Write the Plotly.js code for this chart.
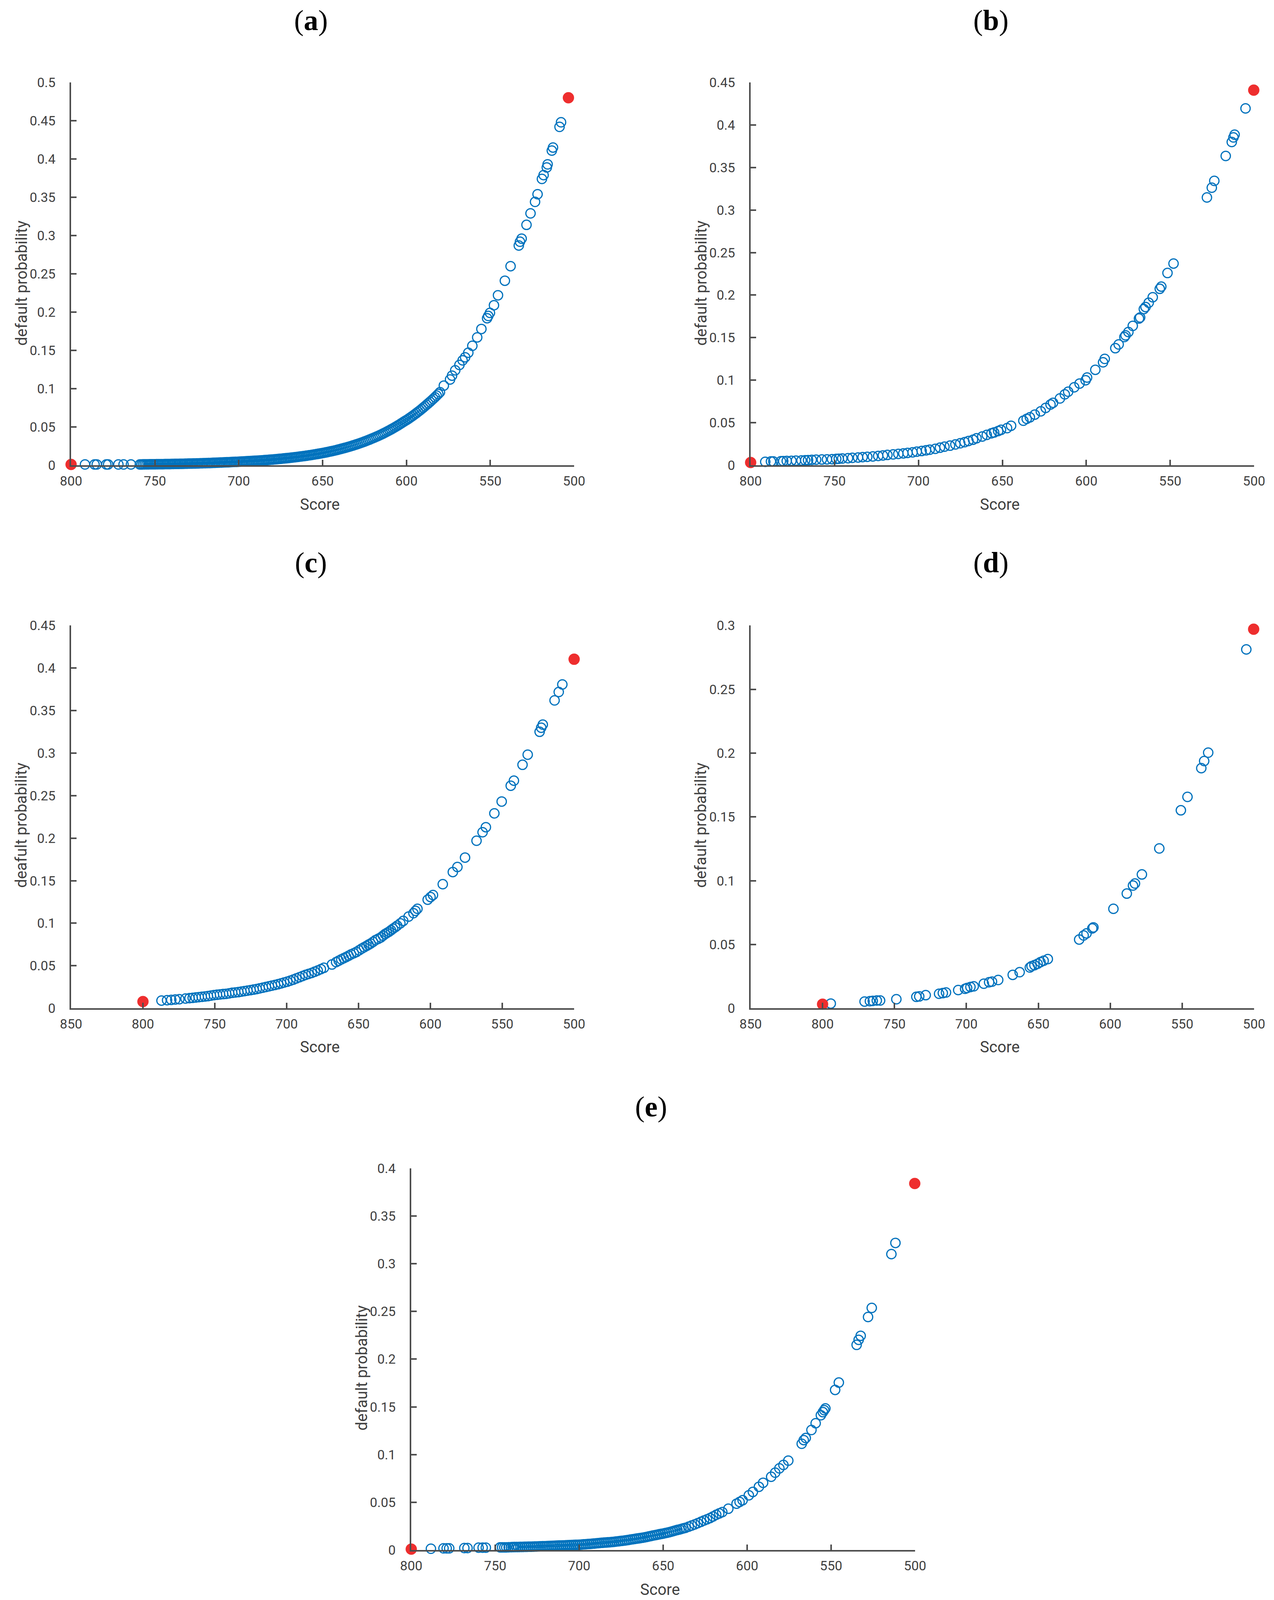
<!DOCTYPE html>
<html>
<head>
<meta charset="utf-8">
<script src="https://cdn.plot.ly/plotly-3.0.1.min.js"></script>
<style>
  html, body { margin: 0; padding: 0; background: #fff; overflow: hidden; }
  #myChart { width: 3262px; }
</style>
</head>
<body>
<div id="myChart"></div>
<script>
// (a)  the 760..580 stretch is a solid band of circles in the picture
const scoreA = [791.7, 786.0, 784.7, 779.0, 777.9, 771.8, 768.7, 764.3,
  759, 758, 757, 756, 755, 754, 753, 752, 751, 750, 749, 748, 747, 746, 745, 744, 743, 742, 741, 740,
  739, 738, 737, 736, 735, 734, 733, 732, 731, 730, 729, 728, 727, 726, 725, 724, 723, 722, 721, 720,
  719, 718, 717, 716, 715, 714, 713, 712, 711, 710, 709, 708, 707, 706, 705, 704, 703, 702, 701, 700,
  699, 698, 697, 696, 695, 694, 693, 692, 691, 690, 689, 688, 687, 686, 685, 684, 683, 682, 681, 680,
  679, 678, 677, 676, 675, 674, 673, 672, 671, 670, 669, 668, 667, 666, 665, 664, 663, 662, 661, 660,
  659, 658, 657, 656, 655, 654, 653, 652, 651, 650, 649, 648, 647, 646, 645, 644, 643, 642, 641, 640,
  639, 638, 637, 636, 635, 634, 633, 632, 631, 630, 629, 628, 627, 626, 625, 624, 623, 622, 621, 620,
  619, 618, 617, 616, 615, 614, 613, 612, 611, 610, 609, 608, 607, 606, 605, 604, 603, 602, 601, 600,
  599, 598, 597, 596, 595, 594, 593, 592, 591, 590, 589, 588, 587, 586, 585, 584, 583, 582, 581, 580,
  577.7, 574.0, 572.8, 570.9, 568.4, 566.5, 565.0, 563.1, 560.7, 557.8, 555.3,
  551.9, 551.2, 550.2, 547.8, 545.4, 541.3, 537.9, 533.0, 532.3, 531.3, 528.4, 526.0, 523.3, 521.8, 519.2, 518.2,
  516.3, 515.8, 513.3, 512.6, 508.7, 507.8];
const probA = [0.0010, 0.0010, 0.0010, 0.0010, 0.0010, 0.0010, 0.0010, 0.0010,
  0.00103, 0.00105, 0.00108, 0.00111, 0.00114, 0.00117, 0.0012, 0.00123, 0.00127, 0.0013, 0.00133, 0.00136, 0.00139, 0.00141, 0.00144, 0.00147, 0.0015, 0.00154, 0.00157, 0.0016,
  0.00165, 0.0017, 0.00174, 0.00179, 0.00184, 0.00189, 0.00194, 0.002, 0.00205, 0.0021, 0.00215, 0.0022, 0.00226, 0.00232, 0.00238, 0.00244, 0.0025, 0.00257, 0.00263, 0.0027,
  0.00278, 0.00286, 0.00294, 0.00303, 0.00312, 0.00321, 0.0033, 0.0034, 0.0035, 0.0036, 0.00369, 0.00378, 0.00387, 0.00397, 0.00407, 0.00417, 0.00428, 0.00438, 0.00449, 0.0046,
  0.00471, 0.00482, 0.00493, 0.00505, 0.00517, 0.00529, 0.00541, 0.00554, 0.00567, 0.0058, 0.00594, 0.00609, 0.00624, 0.0064, 0.00656, 0.00672, 0.00689, 0.00706, 0.00723, 0.0074,
  0.0076, 0.0078, 0.008, 0.00821, 0.00843, 0.00865, 0.00888, 0.00911, 0.00935, 0.0096, 0.00984, 0.0101, 0.01035, 0.01061, 0.01088, 0.01115, 0.01143, 0.01171, 0.012, 0.0123,
  0.01262, 0.01295, 0.01329, 0.01363, 0.01398, 0.01435, 0.01472, 0.0151, 0.01549, 0.0159, 0.01633, 0.01677, 0.01722, 0.01769, 0.01816, 0.01865, 0.01915, 0.01967, 0.0202, 0.0208,
  0.02135, 0.02192, 0.02251, 0.02311, 0.02373, 0.02437, 0.02502, 0.02569, 0.02638, 0.0271, 0.02782, 0.02857, 0.02934, 0.03012, 0.03093, 0.03176, 0.03261, 0.03348, 0.03438, 0.0353,
  0.03623, 0.03719, 0.03817, 0.03917, 0.0402, 0.04126, 0.04235, 0.04347, 0.04462, 0.0458, 0.04699, 0.04821, 0.04946, 0.05074, 0.05206, 0.05341, 0.05479, 0.05621, 0.05767, 0.0589,
  0.06035, 0.06184, 0.06337, 0.06493, 0.06653, 0.06817, 0.06985, 0.07157, 0.07334, 0.0752, 0.077, 0.0789, 0.0808, 0.0827, 0.0847, 0.0867, 0.0888, 0.0909, 0.0931, 0.0954,
  0.1040, 0.1120, 0.1170, 0.1240, 0.1310, 0.1370, 0.1410, 0.1470, 0.1560, 0.1670, 0.1780,
  0.1920, 0.1950, 0.1990, 0.2090, 0.2220, 0.2410, 0.2600, 0.2870, 0.2920, 0.2960, 0.3140, 0.3290, 0.3440, 0.3540, 0.3740, 0.3790,
  0.3890, 0.3930, 0.4110, 0.4150, 0.4420, 0.4480];
const redScoreA = [800, 503.4];
const redProbA = [0.001, 0.480];

// (b)
const scoreB = [791.3, 787.9, 786.5, 782.0, 780.6, 778.5, 775.7, 773.0, 769.7, 767.5, 765.8, 763.6, 761.0, 757.6, 754.5,
  751.5, 749.0, 747.5, 745.4, 742.0, 739.4, 736.0, 733.3, 730.5, 727.2, 724.0, 721.2, 718.5, 715.1, 712.0, 709.0, 706.5,
  703.5, 701.0, 698.1, 695.5, 693.3, 690.0, 687.2, 684.5, 681.2, 678.0, 675.1, 672.5, 670.2, 667.5, 665.4, 662.0, 659.3,
  656.5, 654.9, 652.5, 650.8, 647.2, 644.8, 637.5, 635.5, 633.6, 630.7, 627.1, 624.2, 621.3, 619.8, 615.7, 612.8, 610.8,
  607.2, 604.0, 600.4, 599.5, 594.6, 590.0, 589.0, 582.7, 580.7, 577.3, 576.6, 574.9, 572.3, 568.6, 567.9, 565.7, 564.7,
  562.8, 560.4, 556.2, 555.3, 551.6, 548.0, 528.1, 525.2, 523.7, 516.9, 513.3, 512.3, 511.6, 505.1];
const probB = [0.0040, 0.0044, 0.0044, 0.0047, 0.0048, 0.0050, 0.0052, 0.0054, 0.0056, 0.0058, 0.0060, 0.0063, 0.0065, 0.0067, 0.0069,
  0.0071, 0.0074, 0.0076, 0.0079, 0.0083, 0.0087, 0.0091, 0.0095, 0.0099, 0.0103, 0.0109, 0.0115, 0.0121, 0.0127, 0.0133, 0.0139, 0.0145,
  0.0151, 0.0159, 0.0167, 0.0175, 0.0182, 0.0193, 0.0206, 0.0218, 0.0230, 0.0244, 0.0258, 0.0271, 0.0285, 0.0300, 0.0317, 0.0337, 0.0357,
  0.0375, 0.0385, 0.0402, 0.0416, 0.0436, 0.0464, 0.0523, 0.0545, 0.0563, 0.0595, 0.0634, 0.0674, 0.0714, 0.0734, 0.0785, 0.0833, 0.0864,
  0.0916, 0.0960, 0.0999, 0.1031, 0.1122, 0.1210, 0.1250, 0.1376, 0.1420, 0.1507, 0.1527, 0.1566, 0.1638, 0.1725, 0.1737, 0.1836, 0.1860,
  0.1910, 0.1975, 0.2074, 0.2100, 0.2260, 0.2371, 0.3148, 0.3263, 0.3343, 0.3636, 0.3800, 0.3854, 0.3886, 0.4195];
const redScoreB = [800, 500.2];
const redProbB = [0.0032, 0.441];

// (c)
const scoreC = [787.1, 783.2, 780.3, 777.5, 774.7, 770.4, 767.6, 765.4, 763.3, 761.2, 759.1, 756.9, 754.8, 752.7, 750.6,
  748.5, 746.4, 744.2, 742.1, 740.0, 737.9, 735.8, 733.6, 731.5, 729.4, 727.3, 725.1, 723.0, 720.9, 718.8, 716.6, 714.5,
  712.4, 710.3, 708.1, 706.0, 703.9, 701.8, 699.6, 697.5, 695.4, 693.3, 691.1, 689.0, 686.9, 684.8, 682.6, 680.5, 678.4,
  676.2, 674.1, 668.5, 665.6, 663.8, 662.0, 660.3, 658.6, 656.9, 655.2, 653.3, 651.5, 649.6, 647.8, 646.1, 644.4, 643.0,
  641.6, 639.9, 638.2, 636.3, 634.5, 633.0, 631.6, 630.2, 628.8, 627.4, 626.0, 624.5, 623.1, 620.9, 618.9, 615.2, 611.8,
  610.4, 609.0, 601.9, 599.9, 598.2, 591.4, 584.4, 581.2, 575.9, 567.9, 563.7, 561.4, 555.5, 550.4, 544.1, 541.9, 535.9,
  532.3, 524.0, 522.9, 521.8, 513.6, 510.7, 508.2];
const probC = [0.0091, 0.0095, 0.0099, 0.0103, 0.0107, 0.0115, 0.0119, 0.0123, 0.0127, 0.0131, 0.0135, 0.0139, 0.0143, 0.0149, 0.0155,
  0.0159, 0.0163, 0.0167, 0.0170, 0.0176, 0.0182, 0.0186, 0.0190, 0.0196, 0.0202, 0.0208, 0.0214, 0.0220, 0.0226, 0.0234, 0.0242, 0.0250,
  0.0258, 0.0266, 0.0274, 0.0283, 0.0293, 0.0303, 0.0313, 0.0325, 0.0337, 0.0351, 0.0365, 0.0379, 0.0393, 0.0404, 0.0416, 0.0430, 0.0444,
  0.0460, 0.0476, 0.0515, 0.0543, 0.0559, 0.0575, 0.0589, 0.0603, 0.0618, 0.0634, 0.0648, 0.0662, 0.0682, 0.0702, 0.0718, 0.0734, 0.0748,
  0.0761, 0.0781, 0.0801, 0.0817, 0.0833, 0.0853, 0.0872, 0.0886, 0.0900, 0.0918, 0.0936, 0.0953, 0.0971, 0.0999, 0.1027, 0.1078, 0.1118,
  0.1146, 0.1170, 0.1277, 0.1308, 0.1332, 0.1459, 0.1602, 0.1661, 0.1772, 0.1970, 0.2070, 0.2129, 0.2292, 0.2431, 0.2617, 0.2676, 0.2863,
  0.2982, 0.3251, 0.3299, 0.3335, 0.3620, 0.3719, 0.3807];
const redScoreC = [800, 500];
const redProbC = [0.0079, 0.4104];

// (d)
const scoreD = [794.3, 770.8, 767.1, 765.1, 762.3, 760.0, 748.7, 734.8, 732.8, 728.3, 719.0, 716.4, 714.2, 705.7, 700.9,
  699.5, 697.2, 694.9, 687.9, 684.2, 682.2, 677.9, 667.8, 663.0, 655.9, 654.7, 652.7, 650.5, 648.5, 646.3, 643.4, 621.6,
  618.5, 616.5, 612.5, 611.7, 597.8, 588.5, 584.2, 582.8, 578.0, 565.9, 550.9, 546.3, 536.7, 534.7, 531.9, 505.4];
const probD = [0.0037, 0.0053, 0.0056, 0.0058, 0.0061, 0.0061, 0.0071, 0.0090, 0.0093, 0.0103, 0.0114, 0.0119, 0.0124, 0.0143, 0.0153,
  0.0159, 0.0167, 0.0172, 0.0193, 0.0204, 0.0209, 0.0222, 0.0262, 0.0283, 0.0320, 0.0330, 0.0338, 0.0349, 0.0362, 0.0373, 0.0386, 0.0539,
  0.0571, 0.0587, 0.0626, 0.0634, 0.0780, 0.0899, 0.0962, 0.0978, 0.1049, 0.1253, 0.1552, 0.1657, 0.1882, 0.1938, 0.2004, 0.2813];
const redScoreD = [800, 500.3];
const redProbD = [0.0032, 0.2971];

// (e)
const scoreE = [788.3, 780.8, 778.9, 777.4, 768.4, 766.5, 759.9, 757.5, 755.6,
  747.1, 745.9, 744.6, 743.4, 742.0, 740.5, 739.5, 738.6, 737.4, 736.2, 735.0, 733.7, 732.5, 731.3, 730.1, 728.9,
  727.6, 726.4, 725.2, 724.0, 722.8, 721.6, 720.4, 719.2, 718.0, 716.7, 715.5, 714.3, 713.1, 711.9, 710.7, 709.5,
  708.2, 707.0, 705.8, 704.6, 703.4, 702.2, 701.0, 699.8, 698.5, 697.3, 696.1, 694.9, 693.7, 692.5, 691.3, 690.0,
  688.8, 687.6, 686.4, 685.2, 684.0, 682.8, 681.5, 680.3, 679.1, 677.9, 676.7, 675.5, 674.3, 673.0, 671.8, 670.6,
  669.4, 668.2, 667.0, 665.8, 664.5, 663.3, 662.1, 660.9, 659.7, 658.5, 657.3, 656.1, 654.8, 653.6, 652.4, 651.2,
  650.0, 648.8, 647.6, 646.4, 645.1, 643.9, 642.7, 641.5, 640.3, 639.1, 637.9, 636.7,
  634.8, 633.0, 631.2, 629.4, 627.5, 625.7, 623.9, 622.1, 620.3, 618.4,
  616.6, 614.8, 611.2, 606.3, 604.5, 602.7, 599.0, 596.6, 593.0, 590.5, 585.7, 583.3, 580.8, 578.4, 575.5, 567.5, 566.3,
  565.1, 561.7, 559.2, 556.1, 554.9, 554.1, 553.4, 547.6, 545.4, 534.8, 533.6, 532.4, 528.0, 525.8, 514.1, 511.7];
const probE = [0.0014, 0.0018, 0.0018, 0.0018, 0.0021, 0.0021, 0.0025, 0.0025, 0.0025,
  0.0028, 0.0028, 0.0028, 0.0028, 0.0029, 0.0030, 0.0031, 0.0032, 0.0032, 0.0032, 0.0033, 0.0033, 0.0034, 0.0034, 0.0035, 0.0035,
  0.0036, 0.0037, 0.0038, 0.0039, 0.0040, 0.0041, 0.0041, 0.0042, 0.0043, 0.0044, 0.0045, 0.0046, 0.0047, 0.0048, 0.0048, 0.0049,
  0.0050, 0.0051, 0.0052, 0.0053, 0.0054, 0.0055, 0.0055, 0.0056, 0.0058, 0.0060, 0.0061, 0.0063, 0.0064, 0.0066, 0.0068, 0.0070,
  0.0072, 0.0074, 0.0076, 0.0078, 0.0079, 0.0081, 0.0083, 0.0085, 0.0087, 0.0090, 0.0092, 0.0095, 0.0097, 0.0100, 0.0103, 0.0106,
  0.0110, 0.0113, 0.0116, 0.0120, 0.0123, 0.0127, 0.0130, 0.0134, 0.0138, 0.0143, 0.0147, 0.0152, 0.0156, 0.0160, 0.0165, 0.0169,
  0.0173, 0.0178, 0.0182, 0.0187, 0.0193, 0.0199, 0.0205, 0.0211, 0.0216, 0.0222, 0.0228, 0.0233,
  0.0245, 0.0257, 0.0269, 0.0282, 0.0296, 0.0310, 0.0322, 0.0335, 0.0352, 0.0370,
  0.0384, 0.0398, 0.0433, 0.0486, 0.0504, 0.0522, 0.0574, 0.0609, 0.0663, 0.0705, 0.0768, 0.0811, 0.0856, 0.0892, 0.0937, 0.1114, 0.1152,
  0.1174, 0.1258, 0.1329, 0.1413, 0.1445, 0.1466, 0.1484, 0.1678, 0.1755, 0.2150, 0.2203, 0.2245, 0.2442, 0.2537, 0.3101, 0.3218];
const redScoreE = [800, 500.2];
const redProbE = [0.001, 0.3841];

// positions below are measured on the 3262 x 4870 reference; the plot
// takes the visible window height so the whole figure is in view
const W = 3262, REF_H = 4870;
const H = window.innerHeight > 0 ? Math.min(window.innerHeight, REF_H) : REF_H;
document.getElementById('myChart').style.height = H + 'px';
const px = v => v / W;
const py = v => 1 - v / REF_H;

const sans = 'Roboto, "Liberation Sans", sans-serif';

const axisStyle = {
    showline: true,
    linecolor: '#4d4d4d',
    linewidth: 4,
    ticks: 'inside',
    ticklen: 14,
    tickwidth: 4,
    tickcolor: '#4d4d4d',
    showgrid: false,
    zeroline: false,
    fixedrange: true,
    tickfont: { family: sans, size: 34, color: '#404040' }
};

// one panel = blue open circles + two red end points
function panel(n, xs, ys, rx, ry) {
    var id = n === 1 ? '' : String(n);
    return [
        {
            x: xs, y: ys, xaxis: 'x' + id, yaxis: 'y' + id,
            type: 'scatter', mode: 'markers', cliponaxis: false, hoverinfo: 'x+y',
            marker: { symbol: 'circle-open', size: 24, color: '#0072bd', line: { width: 3, color: '#0072bd' } }
        },
        {
            x: rx, y: ry, xaxis: 'x' + id, yaxis: 'y' + id,
            type: 'scatter', mode: 'markers', cliponaxis: false, hoverinfo: 'x+y',
            marker: { symbol: 'circle', size: 29, color: '#ee2e2e', line: { width: 0 } }
        }
    ];
}

var data = [].concat(
    panel(1, scoreA, probA, redScoreA, redProbA),
    panel(2, scoreB, probB, redScoreB, redProbB),
    panel(3, scoreC, probC, redScoreC, redProbC),
    panel(4, scoreD, probD, redScoreD, redProbD),
    panel(5, scoreE, probE, redScoreE, redProbE)
);

function xax(anchor, dom, range) {
    return Object.assign({}, axisStyle, {
        anchor: anchor, domain: dom, range: range, dtick: 50, tick0: 500, ticklabelstandoff: 7
    });
}
function yax(anchor, dom, top) {
    return Object.assign({}, axisStyle, {
        anchor: anchor, domain: dom, range: [0, top], dtick: 0.05, tick0: 0, ticklabelstandoff: 29
    });
}

var colL = [px(182), px(1470)], colR = [px(1922), px(3211)], colM = [px(1053), px(2343)];
var row1 = [py(1416), py(251)], row2 = [py(3069), py(1904)], row3 = [py(4718), py(3556)];

var titleFont = { family: '"Liberation Serif", "DejaVu Serif", serif', size: 74, color: '#000' };
var labFont = { family: sans, size: 40, color: '#404040' };

function note(text, x, y, font, angle) {
    return { text: text, x: px(x), y: py(y), xref: 'paper', yref: 'paper', showarrow: false,
             xanchor: 'center', yanchor: 'middle', font: font, textangle: angle || 0 };
}

var layout = {
    width: W,
    height: H,
    margin: { l: 0, r: 0, t: 0, b: 0 },
    paper_bgcolor: '#fff',
    plot_bgcolor: '#fff',
    showlegend: false,
    xaxis: xax('y', colL, [800, 500]),
    yaxis: yax('x', row1, 0.5),
    xaxis2: xax('y2', colR, [800, 500]),
    yaxis2: yax('x2', row1, 0.45),
    xaxis3: xax('y3', colL, [850, 500]),
    yaxis3: yax('x3', row2, 0.45),
    xaxis4: xax('y4', colR, [850, 500]),
    yaxis4: yax('x4', row2, 0.3),
    xaxis5: xax('y5', colM, [800, 500]),
    yaxis5: yax('x5', row3, 0.4),
    annotations: [
        note('(<b>a</b>)', 796, 62, titleFont),
        note('(<b>b</b>)', 2537, 62, titleFont),
        note('(<b>c</b>)', 796, 1712, titleFont),
        note('(<b>d</b>)', 2537, 1712, titleFont),
        note('(<b>e</b>)', 1667, 3368, titleFont),
        note('Score', 819, 1535, labFont),
        note('Score', 2560, 1535, labFont),
        note('Score', 819, 3187, labFont),
        note('Score', 2560, 3187, labFont),
        note('Score', 1690, 4839, labFont),
        note('default probability', 55, 862, labFont, -90),
        note('default probability', 1795, 862, labFont, -90),
        note('deafult probability', 55, 2512, labFont, -90),
        note('default probability', 1795, 2512, labFont, -90),
        note('default probability', 926, 4164, labFont, -90)
    ]
};

Plotly.newPlot('myChart', data, layout, { displayModeBar: false, staticPlot: true });
</script>
</body>
</html>
